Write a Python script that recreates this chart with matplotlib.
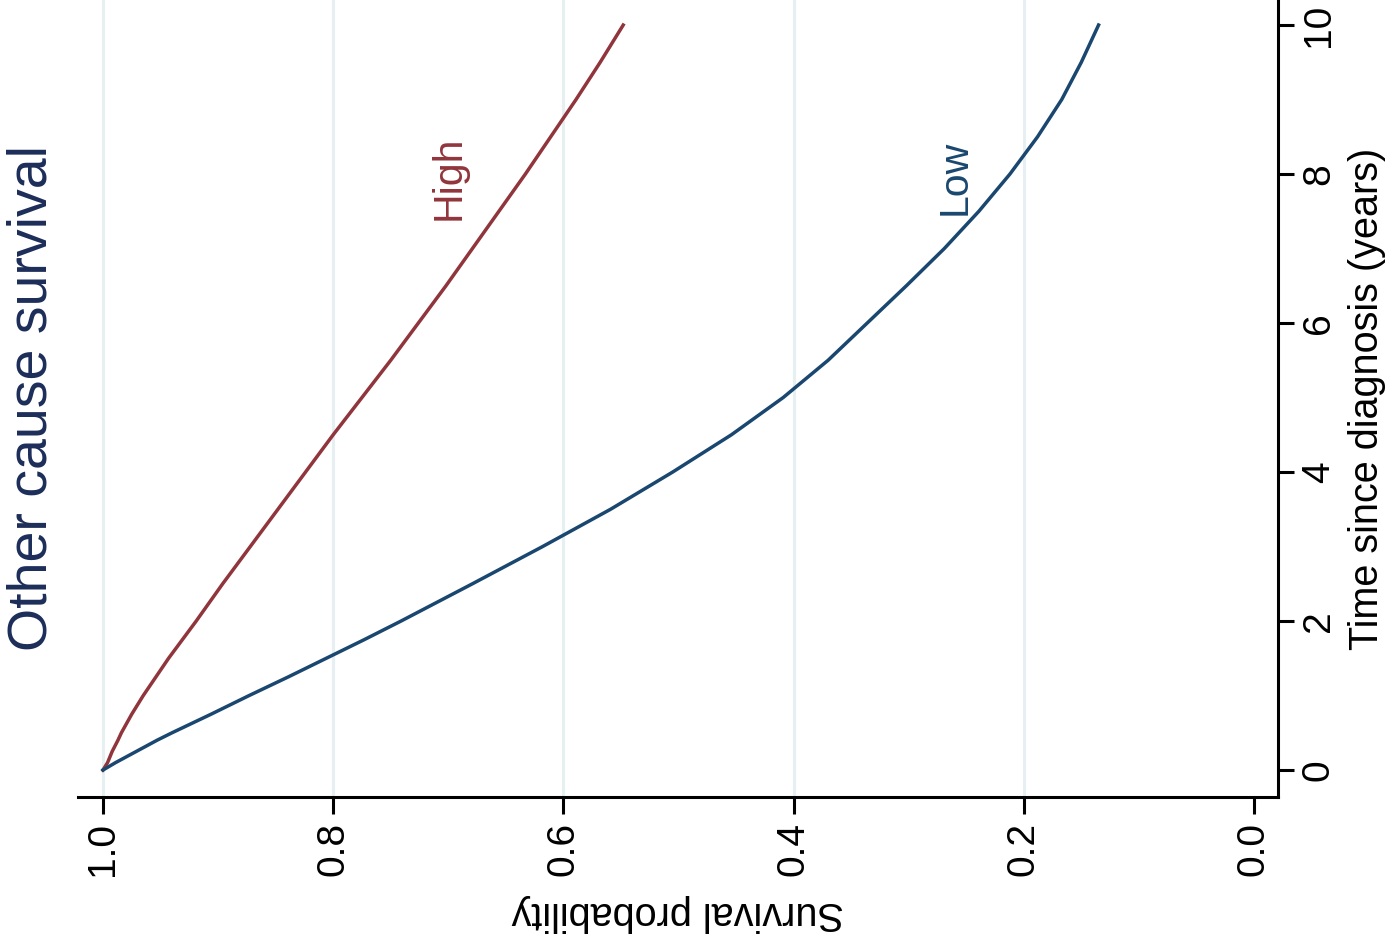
import matplotlib
matplotlib.use("Agg")
import matplotlib.pyplot as plt
import numpy as np

plt.rcParams['font.family'] = ['Liberation Sans', 'DejaVu Sans']

# predicted other-cause survival by group
years = [0, 0.1, 0.25, 0.4, 0.5, 0.75, 1, 1.25, 1.5, 1.75, 2, 2.5, 3, 3.5,
         4, 4.5, 5, 5.5, 6, 6.5, 7, 7.5, 8, 8.5, 9, 9.5, 10]
surv_high = [1.0, 0.996, 0.992, 0.987, 0.984, 0.975, 0.965, 0.954, 0.943,
             0.931, 0.919, 0.896, 0.872, 0.848, 0.824, 0.800, 0.775, 0.750,
             0.726, 0.702, 0.679, 0.656, 0.633, 0.611, 0.589, 0.568, 0.548]
surv_low = [1.0, 0.989, 0.971, 0.953, 0.940, 0.906, 0.873, 0.839, 0.806,
            0.773, 0.741, 0.679, 0.618, 0.559, 0.505, 0.454, 0.409, 0.370,
            0.336, 0.302, 0.269, 0.239, 0.212, 0.188, 0.167, 0.150, 0.135]

prob_ticks = [1.0, 0.8, 0.6, 0.4, 0.2, 0.0]
prob_grid = [1.0, 0.8, 0.6, 0.4, 0.2]
year_ticks = [0, 2, 4, 6, 8, 10]

navy = '#1a476f'
maroon = '#90353b'
title_col = '#1c2d59'

fig = plt.figure(figsize=(13.88, 9.51), dpi=100, facecolor='w')
ax = fig.add_axes([78 / 1388, 154 / 951, 1200 / 1388, 797 / 951])

for g in prob_grid:
    ax.axvline(g, color='#e6eff1', lw=2.2, zorder=0)

ax.plot(surv_high, years, color=maroon, lw=2.5, solid_joinstyle='round')
ax.plot(surv_low, years, color=navy, lw=2.5, solid_joinstyle='round')

ax.text(0.70, 7.95, 'High', color=maroon, fontsize=29.5, rotation=90,
        ha='center', va='center')
ax.text(0.26, 7.95, 'Low', color=navy, fontsize=29.5, rotation=90,
        ha='center', va='center')

ax.set_xlim(1.0217, -0.0209)
ax.set_ylim(-0.362, 10.336)

ax.yaxis.tick_right()
ax.yaxis.set_label_position('right')
for side in ['left', 'top']:
    ax.spines[side].set_visible(False)
for side in ['bottom', 'right']:
    ax.spines[side].set_linewidth(2.2)

ax.set_xticks(prob_ticks)
ax.set_xticklabels(['%.1f' % p for p in prob_ticks], rotation=90)
ax.set_yticks(year_ticks)
ax.set_yticklabels([str(t) for t in year_ticks], rotation=90, va='center')
ax.tick_params(axis='x', length=12, width=2.2, labelsize=28, pad=6)
ax.tick_params(axis='y', length=11.5, width=2.2, labelsize=28, pad=5)

ax.set_xlabel('Survival probability', fontsize=28.5, rotation=180, labelpad=13)
ax.set_ylabel('Time since diagnosis (years)', fontsize=28.5, rotation=90,
              labelpad=8)

fig.text(33 / 1388, 1 - 398 / 951, 'Other cause survival', color=title_col,
         fontsize=40, rotation=90, ha='center', va='center')

fig.savefig('out.png', dpi=100)
